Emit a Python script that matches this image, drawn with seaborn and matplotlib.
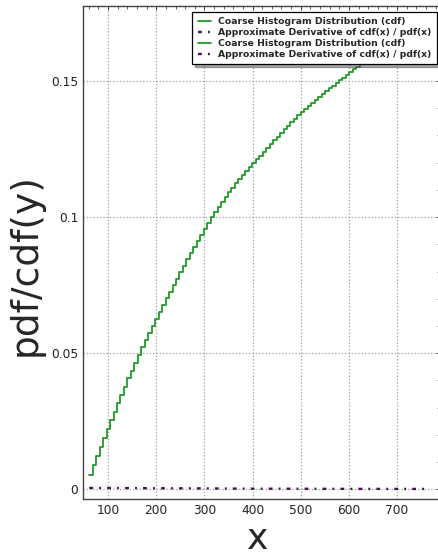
import numpy as np
import pandas as pd
import matplotlib
matplotlib.use("Agg")
import matplotlib.pyplot as plt
from matplotlib.ticker import MultipleLocator, FormatStrFormatter
import seaborn as sns

# Histograma acumulado (cdf) por bins de ancho constante
bin_start = 61.0
bin_width = 7.2
cdf = [0.0054, 0.0088, 0.0122, 0.0155, 0.0188, 0.0221, 0.0253, 0.0285, 0.0316, 0.0347,
       0.0377, 0.0407, 0.0436, 0.0465, 0.0493, 0.0521, 0.0548, 0.0575, 0.0601, 0.0627,
       0.0652, 0.0677, 0.0702, 0.0726, 0.0750, 0.0774, 0.0798, 0.0822, 0.0845, 0.0868,
       0.0891, 0.0914, 0.0936, 0.0958, 0.0979, 0.0999, 0.1019, 0.1038, 0.1056, 0.1074,
       0.1091, 0.1108, 0.1124, 0.1140, 0.1155, 0.1170, 0.1184, 0.1198, 0.1212, 0.1226,
       0.1240, 0.1254, 0.1268, 0.1282, 0.1296, 0.1309, 0.1322, 0.1335, 0.1348, 0.1361,
       0.1374, 0.1387, 0.1398, 0.1409, 0.1420, 0.1431, 0.1442, 0.1453, 0.1463, 0.1473,
       0.1483, 0.1493, 0.1503, 0.1513, 0.1523, 0.1533, 0.1543, 0.1553, 0.1563, 0.1572,
       0.1581, 0.1590, 0.1599, 0.1608, 0.1617, 0.1626, 0.1635, 0.1644, 0.1653, 0.1661,
       0.1669, 0.1677, 0.1685, 0.1693, 0.1701, 0.1709, 0.1717, 0.1725, 0.1733, 0.1741]
x_bins = bin_start + bin_width * np.arange(len(cdf))

# Derivada aproximada de la cdf (pdf)
deriv_x = [61, 100, 150, 200, 250, 300, 350, 400, 450, 500, 550, 600, 650, 700, 768]
deriv_y = [0.00046, 0.00045, 0.00041, 0.00035, 0.00033, 0.00030, 0.00024, 0.00020,
           0.00019, 0.00017, 0.00015, 0.00014, 0.00012, 0.00012, 0.00011]

etiqueta_cdf = "Coarse Histogram Distribution (cdf)"
etiqueta_pdf = "Approximate Derivative of cdf(x) / pdf(x)"

sns.set_style("white")
plt.rcParams["font.family"] = ["DejaVu Sans"]

fig = plt.figure(figsize=(4.38, 5.56), dpi=100)
# el eje derecho queda justo en el borde de la imagen
ax = fig.add_axes([83 / 438, 0.102, 357 / 438, 0.8878])

sns.lineplot(x=x_bins, y=cdf, drawstyle="steps-post", color="#22992a", lw=1.3,
             label=etiqueta_cdf, ax=ax)
sns.lineplot(x=deriv_x, y=deriv_y, color="#4e0a5a", lw=1.7,
             linestyle=(0, (1.6, 2.6, 0.8, 2.6)), label=etiqueta_pdf, ax=ax)

ax.set_xlim(48, 789)
ax.set_ylim(-0.0037, 0.1777)
ax.xaxis.set_major_locator(MultipleLocator(100))
ax.xaxis.set_minor_locator(MultipleLocator(20))
ax.yaxis.set_major_locator(MultipleLocator(0.05))
ax.yaxis.set_minor_locator(MultipleLocator(0.01))
ax.yaxis.set_major_formatter(FormatStrFormatter("%g"))
ax.tick_params(which="both", direction="in", top=True, right=True,
               color="#444444", labelcolor="#222222", labelsize=8.8)
ax.tick_params(which="major", length=3.2, width=0.7)
ax.tick_params(which="minor", length=2, width=0.6)
for s in ax.spines.values():
    s.set_color("#444444")
    s.set_linewidth(1.0)
ax.grid(True, which="major", ls=":", color="#a0a0a0", lw=0.9)

ax.set_xlabel("x", fontsize=26)
ax.set_ylabel("pdf/cdf(y)", fontsize=27)
ax.xaxis.set_label_coords(0.49, -0.045)
ax.yaxis.set_label_coords(-0.11, 0.475)

h, l = ax.get_legend_handles_labels()
leg = ax.legend(h * 2, l * 2, loc="upper right",
                bbox_to_anchor=(436.7 / 438, 1 - 11.7 / 556), bbox_transform=fig.transFigure,
                borderaxespad=0, fancybox=False, shadow=True, framealpha=1,
                edgecolor="black", prop={"weight": "bold", "size": 6.7},
                handlelength=1.4, handletextpad=0.75, labelspacing=0.2, borderpad=0.6)
leg.get_frame().set_linewidth(0.9)
leg.set_zorder(10)

fig.savefig("out.png", dpi=100)
